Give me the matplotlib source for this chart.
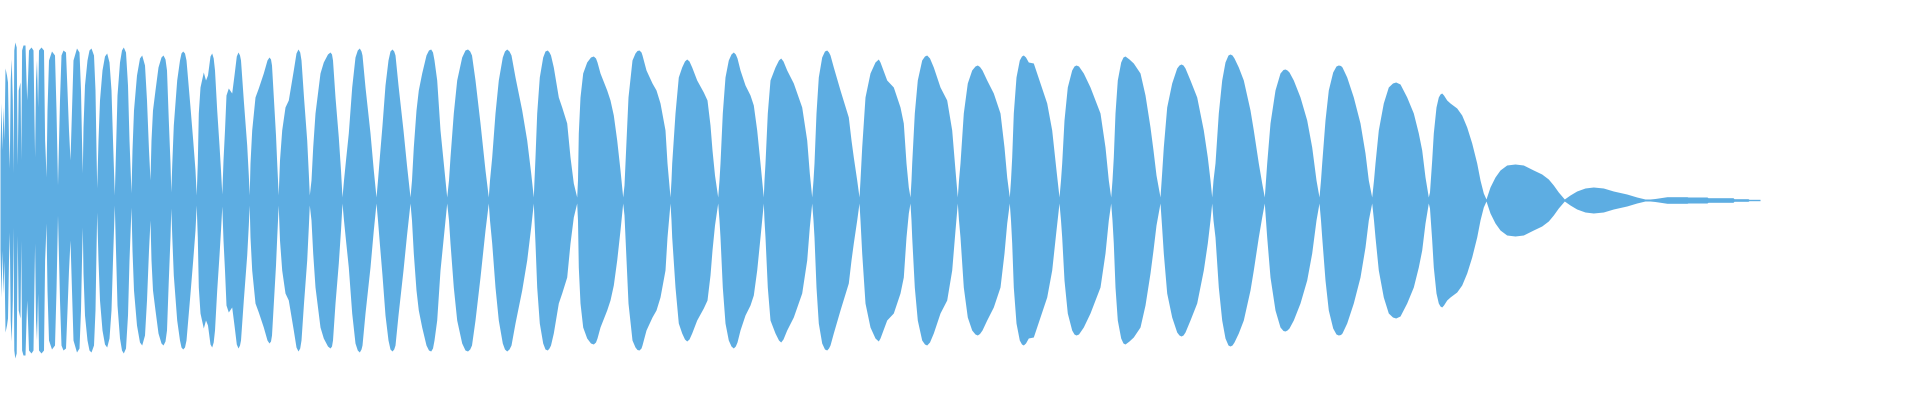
import matplotlib
matplotlib.use("Agg")
import matplotlib.pyplot as plt
import numpy as np

# Waveform peak envelope: (frame index, peak level).
# The waveform is drawn mirrored around zero.
INTRO = [
    (0, 50), (1, 97), (2, 50), (3, 93), (4, 60), (5, 132), (6.5, 125), (7.5, 118),
    (8.5, 60), (9.3, 32), (10.2, 120), (11.2, 141), (12.3, 100), (13, 27), (13.8, 150),
    (14.8, 158), (16.2, 153), (17.2, 35), (18.2, 110), (20, 118), (20.8, 40), (21.6, 150),
    (23, 155), (25, 155), (26, 120), (26.7, 100), (27.5, 120), (28.5, 150), (31, 153),
    (33, 150), (34, 80), (34.6, 43), (35.5, 120), (36.5, 140), (37.6, 93), (38.5, 150),
    (41, 153), (43.5, 150), (44.6, 60), (45.3, 43), (46, 23), (47, 90), (48.5, 140),
    (51.5, 149), (54.5, 145), (56, 90), (57.5, 15), (59.5, 100), (61, 145), (63, 150),
    (65.5, 148), (67, 110), (68.5, 70), (70, 40), (71.5, 90), (73, 140), (76.5, 152),
    (79, 148), (80.5, 110), (81.5, 60), (82.3, 27),
    (83, 73), (84.5, 115), (87, 140), (89, 150), (91, 152), (93.5, 145), (95, 110), (96, 50), (96.7, 12),
    (98, 60), (99.5, 100), (102, 130), (104.5, 144), (106.7, 147), (109, 138), (111, 110), (112.5, 60), (114.3, 5),
    (115.5, 50), (117, 105), (119.5, 138), (121.5, 150), (123.3, 153), (125.5, 148), (127.5, 115), (129, 60), (131, 7),
    (132, 50), (133.5, 90), (136.5, 125), (139.5, 142), (141.7, 145), (144.5, 135), (146.5, 100), (148.5, 50), (150, 20),
]

EARLY = [
    (151, 60), (152.5, 90), (155, 110), (158, 133), (161, 143), (163, 145), (165, 141), (166.5, 130), (168.3, 80), (170, 37), (170.8, 8),
    (171.8, 37), (173.3, 75), (176.7, 120), (179.5, 140), (181, 147), (182.7, 149), (184.5, 147), (186, 140), (190, 93), (192.7, 60), (195, 30), (196.2, 5),
    (197.3, 37), (198.3, 87), (200, 113), (203.3, 128), (205.5, 120), (207.5, 125), (210, 144), (211.7, 147), (213.2, 142), (214.5, 130), (216.7, 90), (219, 55), (220.5, 30), (221.8, 6),
    (223, 40), (224.5, 70), (226, 105), (228.3, 112), (231.7, 107), (234, 125), (236.3, 144), (238, 148), (239.5, 145), (240.5, 140), (243.3, 100), (246.7, 55), (248.3, 25), (249.2, 5),
    (250, 37), (251.7, 70), (255, 103), (258.3, 112), (263.3, 127), (267, 140), (269, 143), (270.5, 141), (271.5, 135), (273.5, 100), (275.5, 65), (276.8, 35), (278.2, 5),
    (279.5, 40), (281.7, 70), (285, 93), (288.3, 100), (293.3, 130), (296, 147), (298, 151), (299.7, 148), (301, 140), (303.5, 103), (306.7, 60), (308.3, 27), (309.3, 5),
    (311, 20), (312.7, 53), (315, 87), (320, 127), (323.3, 138), (327.5, 146), (330, 148), (331.5, 146), (332.5, 140), (335, 103), (338.3, 63), (340.5, 30), (342, 3),
]

BODY_A = [
    (343.5, 20), (345.5, 40), (348.3, 67), (351.7, 113), (355, 143), (357.3, 150), (359.3, 152), (361, 149), (362, 145), (365, 113), (370, 67), (373.3, 30), (376, 3),
    (377.5, 20), (379.5, 45), (382, 75), (385, 115), (388, 140), (390, 149), (392, 151), (393.7, 149), (395, 145), (398, 115), (403, 70), (406.5, 35), (410, 3),
    (411.5, 20), (413.3, 53), (416, 90), (418.3, 110), (421.7, 127), (426, 145), (428.5, 150), (430.7, 151), (432.5, 148), (434, 140), (436.7, 120), (440, 70), (444, 30), (446.7, 3),
    (448.5, 20), (450, 43), (453.3, 87), (456.7, 120), (461.7, 143), (465, 150), (467.5, 151), (469.7, 149), (471.5, 145), (475, 120), (480, 77), (485, 30), (488.3, 3),
    (489.5, 20), (491.7, 43), (495, 87), (498.3, 120), (502.3, 143), (504.5, 149), (506.7, 151), (509, 149), (511, 145), (515, 123), (521.7, 90), (526.7, 60), (530.7, 27), (533.3, 3),
    (534, 20), (535, 43), (536.7, 87), (539.3, 123), (542.7, 143), (545, 149), (547.3, 150), (549, 148), (550.5, 145), (553.3, 133), (558.3, 103), (561.7, 93), (566.7, 77), (570, 43), (573.3, 17), (576.7, 3),
    (577.5, 20), (578.3, 67), (580, 103), (582.7, 127), (586.7, 138), (590.5, 143), (593.3, 144), (595.5, 142), (597, 138), (600, 127), (606.7, 110), (610, 100), (613.3, 85), (616.7, 60), (620, 30), (622.7, 3),
    (624, 15), (625, 37), (628, 103), (632, 140), (635, 147), (637, 149.5), (639, 150), (641, 148), (642, 145), (646, 130), (652, 117), (656, 110), (660, 97), (665, 70), (667, 37), (668.5, 20), (670, 3),
    (671, 20), (671.7, 37), (675, 87), (678.3, 123), (681.7, 133), (684.5, 139), (686.7, 141), (689, 139), (691.7, 133), (696.7, 120), (703.3, 108), (707, 100), (710, 75), (712, 50), (714.5, 25), (717.7, 3),
    (719, 20), (720, 37), (722.3, 87), (725, 123), (728.3, 140), (731, 146), (733.3, 148), (735.3, 146), (737, 142), (740, 130), (745, 115), (750, 105), (753.3, 95), (756.7, 70), (760, 37), (763.3, 3),
    (764, 20), (765, 37), (767.3, 87), (770, 120), (775, 133), (778.5, 140), (780.7, 142), (783, 139), (786.7, 130), (793.3, 117), (801.7, 93), (806.7, 60), (809.3, 27), (811.7, 3),
    (813, 20), (814, 37), (816, 87), (818.3, 123), (821.7, 143), (824.5, 149), (826.7, 150), (828.5, 148), (830, 145), (833.3, 133), (840, 110), (848.3, 83), (851, 60), (853.3, 43), (856.7, 20), (859, 3),
]

BODY_B = [
    (860, 20), (861.7, 53), (865, 103), (870, 127), (875, 138), (878.3, 141), (880, 138), (886.7, 120), (893.3, 113), (900, 93), (903.3, 77), (906, 37), (908.3, 13), (910, 3),
    (911, 20), (911.7, 37), (914.3, 87), (917.3, 120), (921.7, 140), (924.5, 144), (926.7, 145), (929.5, 142), (933.3, 133), (940, 113), (946.7, 100), (951.7, 70), (955, 30), (957.3, 3),
    (958.5, 20), (960, 37), (963.3, 87), (967.3, 117), (971.7, 130), (975, 134), (977.3, 135), (979.5, 133.5), (982, 130), (986.7, 120), (993.3, 107), (1000, 87), (1004, 53), (1006.7, 23), (1009.3, 3),
    (1010.5, 20), (1011.7, 43), (1013.3, 87), (1016, 123), (1019.3, 140), (1021.5, 144), (1023.3, 145), (1025.5, 143), (1028.3, 138), (1033.3, 137), (1040, 117), (1046.7, 97), (1051.7, 70), (1056, 30), (1059, 3),
    (1060.5, 20), (1061.7, 37), (1064, 80), (1067.3, 113), (1071.7, 130), (1074, 134), (1076, 135), (1078.5, 134), (1083.3, 127), (1090, 113), (1100, 87), (1105, 53), (1108.3, 20), (1110.7, 3),
    (1112, 20), (1113.3, 43), (1115, 87), (1117.3, 120), (1120.7, 138), (1123, 143), (1125, 144), (1129, 141), (1133.3, 137), (1140, 127), (1145, 105), (1150, 73), (1153, 50), (1156, 25), (1160, 3),
    (1161.5, 25), (1163.3, 53), (1166.7, 93), (1171.7, 117), (1176.7, 132), (1179, 135), (1181, 136), (1183, 135), (1185, 132), (1190, 120), (1196.7, 103), (1203.3, 70), (1207.3, 43), (1210, 20), (1211.7, 3),
    (1213, 20), (1215, 37), (1218.3, 87), (1221.7, 120), (1225, 138), (1228, 145), (1230, 146), (1232, 145), (1234, 142), (1238.3, 133), (1243.3, 120), (1250, 90), (1253.3, 70), (1258.3, 37), (1261.7, 17), (1264.3, 3),
    (1265.5, 20), (1266.7, 37), (1270, 77), (1275, 110), (1280, 127), (1283, 130.5), (1285, 131), (1287, 130), (1289, 128), (1293.3, 120), (1300, 103), (1306.7, 80), (1311.7, 53), (1316, 20), (1319, 3),
    (1320.5, 20), (1321.7, 37), (1325, 80), (1328.3, 110), (1332.7, 128), (1336, 134), (1338.3, 135), (1340.5, 134.5), (1342, 133), (1346.7, 123), (1353.3, 103), (1360, 77), (1365, 47), (1368.3, 20), (1371.7, 3),
]

DECAY = [
    (1373.5, 20), (1375, 37), (1378.3, 70), (1383.3, 97), (1388.3, 113), (1392.5, 117), (1395.7, 118), (1400, 116), (1406.7, 103), (1413.3, 87), (1418.3, 67), (1421.7, 50), (1425, 23), (1428.3, 3),
    (1429.5, 8), (1431.7, 40), (1433.3, 67), (1436, 93), (1438.3, 103), (1440, 106), (1441.7, 107), (1443.5, 105), (1446.7, 100), (1450, 97), (1456.7, 92), (1461.7, 85), (1466.7, 73), (1471.7, 57), (1476.7, 37), (1480, 20), (1483.3, 7), (1486, 1),
    (1490, 13), (1495, 23), (1500, 30), (1506.7, 35), (1515, 36), (1523.3, 35), (1533.3, 30), (1541.7, 26), (1548.3, 21), (1553.3, 15), (1558.3, 8), (1564.3, 1),
    (1570, 5), (1576.7, 9), (1585, 12), (1593.3, 13), (1603.3, 12), (1613.3, 9), (1626.7, 6), (1636.7, 3), (1645, 1),
    (1650, 1), (1655, 1.5), (1663, 2.7), (1667, 3.3), (1687, 3.3), (1688, 3), (1707, 3), (1708, 2.3),
    (1733, 2.3), (1734, 1.3), (1748, 1.3), (1749, 0.7), (1760, 0.7),
]

COLOR = "#5dade2"
TOTAL_FRAMES = 1920
LEVEL_RANGE = 200

points = INTRO + EARLY + BODY_A + BODY_B + DECAY
frames = np.array([p[0] for p in points], dtype=float)
levels = np.array([p[1] for p in points], dtype=float)

fig = plt.figure(figsize=(19.2, 4.0), dpi=100)
ax = fig.add_axes([0, 0, 1, 1])
ax.fill_between(frames, -levels, levels, color=COLOR, linewidth=0, antialiased=True)
ax.set_xlim(0, TOTAL_FRAMES)
ax.set_ylim(-LEVEL_RANGE, LEVEL_RANGE)
ax.axis("off")
fig.savefig("out.png", dpi=100, facecolor="white")
